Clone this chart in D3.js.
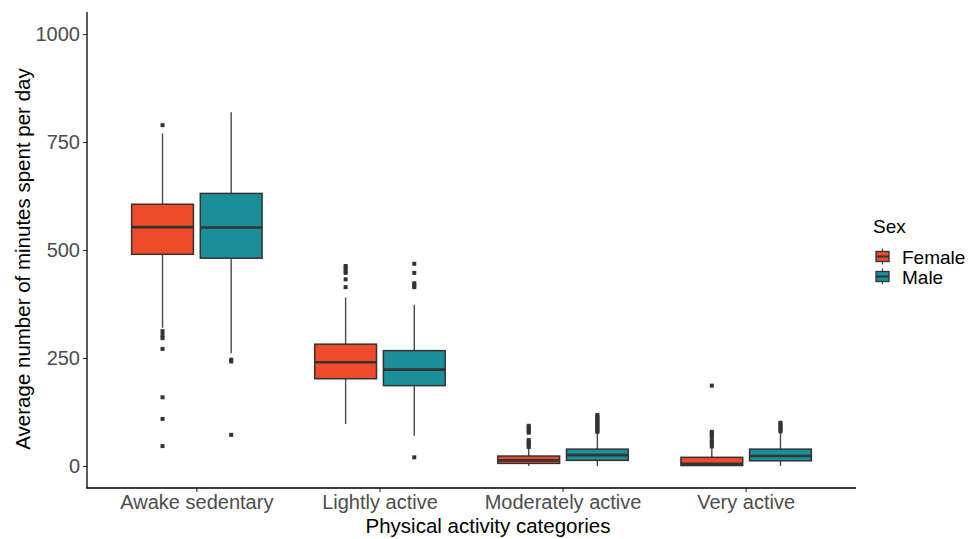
<!DOCTYPE html>
<html>
<head>
<meta charset="utf-8">
<script src="https://cdn.jsdelivr.net/npm/d3@7"></script>
<style>
  html, body { margin: 0; padding: 0; background: #fff; }
  svg { display: block; font-family: "Liberation Sans", Arial, Helvetica, sans-serif; }
</style>
</head>
<body>
<svg id="chart" width="969" height="539"></svg>
<script>
// ---- data ----
const categories = ["Awake sedentary", "Lightly active", "Moderately active", "Very active"];
const sexes = ["Female", "Male"];
const colors = ["#EE4B2B", "#1A8F98"];

// five-number summaries per category: [lowerWhisker, q1, median, q3, upperWhisker]
const femaleStats = [
  [320, 490, 553, 606, 770],
  [97, 202, 240, 282, 390],
  [0, 6, 13, 23, 41],
  [0, 1, 5, 20, 41]
];
const maleStats = [
  [261, 481, 552, 631, 819],
  [70, 186, 223, 267, 373],
  [0, 13, 25, 39, 76],
  [0, 12, 23, 39, 76]
];
const femaleOutliers = [
  [789, 312, 303, 296, 271, 159, 109, 46],
  [463, 458, 452, 447, 432, 414],
  [93, 90, 86, 81, 77, 60, 56, 52, 48, 44],
  [186, 79, 75, 71, 68, 60, 55, 50, 45]
];
const maleOutliers = [
  [246, 242, 72],
  [468, 447, 423, 418, 414, 20],
  [118, 114, 110, 106, 102, 98, 94, 90, 86, 82, 79],
  [100, 96, 92, 88, 84, 80]
];
const yTicks = [0, 250, 500, 750, 1000];

// ---- layout ----
const panel = { left: 87, right: 856, top: 12, bottom: 488 };
const svg = d3.select("#chart");

const x = d3.scaleBand()
  .domain(categories)
  .range([panel.left, panel.right])
  .paddingInner(0)
  .paddingOuter(0.1);
const step = x.step();
const xSub = d3.scaleBand()
  .domain(sexes)
  .range([-0.375 * step, 0.375 * step]);
const boxW = xSub.bandwidth() * 0.9;

const y = d3.scaleLinear().domain([-51, 1051]).range([panel.bottom, panel.top]);

const statsBySex = [femaleStats, maleStats];
const outBySex = [femaleOutliers, maleOutliers];

const rows = [];
sexes.forEach((s, si) => {
  categories.forEach((c, ci) => {
    const st = statsBySex[si][ci];
    rows.push({
      sex: s, si, cat: c,
      lo: st[0], q1: st[1], med: st[2], q3: st[3], hi: st[4],
      outliers: outBySex[si][ci]
    });
  });
});

const g = svg.append("g");
const boxes = g.selectAll("g.box").data(rows).join("g")
  .attr("class", "box")
  .attr("transform", d => `translate(${x(d.cat) + step / 2 + xSub(d.sex) + xSub.bandwidth() / 2},0)`);

// whiskers
boxes.append("line")
  .attr("x1", 0).attr("x2", 0)
  .attr("y1", d => y(d.hi)).attr("y2", d => y(d.q3))
  .attr("stroke", "#4a4a4a").attr("stroke-width", 1.4);
boxes.append("line")
  .attr("x1", 0).attr("x2", 0)
  .attr("y1", d => y(d.q1)).attr("y2", d => y(d.lo))
  .attr("stroke", "#4a4a4a").attr("stroke-width", 1.4);

// box
boxes.append("rect")
  .attr("x", -boxW / 2)
  .attr("width", boxW)
  .attr("y", d => y(d.q3))
  .attr("height", d => y(d.q1) - y(d.q3))
  .attr("fill", d => colors[d.si])
  .attr("stroke", "#333333")
  .attr("stroke-width", 1.5);

// median
boxes.append("line")
  .attr("x1", -boxW / 2).attr("x2", boxW / 2)
  .attr("y1", d => y(d.med)).attr("y2", d => y(d.med))
  .attr("stroke", "#333333").attr("stroke-width", 2.6);

// outliers
boxes.selectAll("rect.out").data(d => d.outliers).join("rect")
  .attr("class", "out")
  .attr("x", -2).attr("width", 4)
  .attr("y", v => y(v) - 2).attr("height", 4)
  .attr("fill", "#333333");

// ---- axes ----
const yAxis = d3.axisLeft(y).tickValues(yTicks).tickFormat(d3.format("d")).tickSize(4).tickPadding(3);
const yg = svg.append("g").attr("transform", `translate(${panel.left},0)`).call(yAxis);
yg.select(".domain").remove();
yg.selectAll(".tick line").attr("stroke", "#333333").attr("stroke-width", 1.1);
yg.selectAll(".tick text").attr("fill", "#4D4D4D").style("font-size", "20px")
  .style("font-family", "'Liberation Sans', Arial, sans-serif");

const xAxis = d3.axisBottom(x).tickSize(4).tickPadding(3);
const xg = svg.append("g").attr("transform", `translate(0,${panel.bottom})`).call(xAxis);
xg.select(".domain").remove();
xg.selectAll(".tick line").attr("stroke", "#333333").attr("stroke-width", 1.1);
xg.selectAll(".tick text").attr("fill", "#4D4D4D").style("font-size", "20px")
  .style("font-family", "'Liberation Sans', Arial, sans-serif");

// axis lines
svg.append("line")
  .attr("x1", panel.left).attr("x2", panel.left)
  .attr("y1", panel.top).attr("y2", panel.bottom + 0.5)
  .attr("stroke", "#000").attr("stroke-width", 1.3);
svg.append("line")
  .attr("x1", panel.left - 0.5).attr("x2", panel.right)
  .attr("y1", panel.bottom).attr("y2", panel.bottom)
  .attr("stroke", "#000").attr("stroke-width", 1.3);

// axis titles
svg.append("text")
  .attr("x", 488).attr("y", 533)
  .attr("text-anchor", "middle")
  .style("font-size", "20.5px").attr("fill", "#000")
  .text("Physical activity categories");
svg.append("text")
  .attr("transform", `translate(30,259) rotate(-90)`)
  .attr("text-anchor", "middle")
  .style("font-size", "20.5px").attr("fill", "#000")
  .text("Average number of minutes spent per day");

// ---- legend ----
const lg = svg.append("g");
lg.append("text").attr("x", 873).attr("y", 233)
  .style("font-size", "19px").attr("fill", "#000").text("Sex");
sexes.forEach((s, i) => {
  const cy = 256.5 + i * 20;
  const cx = 882.5;
  lg.append("line").attr("x1", cx).attr("x2", cx)
    .attr("y1", cy - 8).attr("y2", cy + 8)
    .attr("stroke", "#4a4a4a").attr("stroke-width", 1.3);
  lg.append("rect").attr("x", cx - 6.5).attr("y", cy - 5)
    .attr("width", 13).attr("height", 10)
    .attr("fill", colors[i]).attr("stroke", "#333333").attr("stroke-width", 1.3);
  lg.append("line").attr("x1", cx - 6.5).attr("x2", cx + 6.5)
    .attr("y1", cy).attr("y2", cy)
    .attr("stroke", "#333333").attr("stroke-width", 2);
  lg.append("text").attr("x", 902).attr("y", cy + 7)
    .style("font-size", "19px").attr("fill", "#000").text(s);
});
</script>
</body>
</html>
